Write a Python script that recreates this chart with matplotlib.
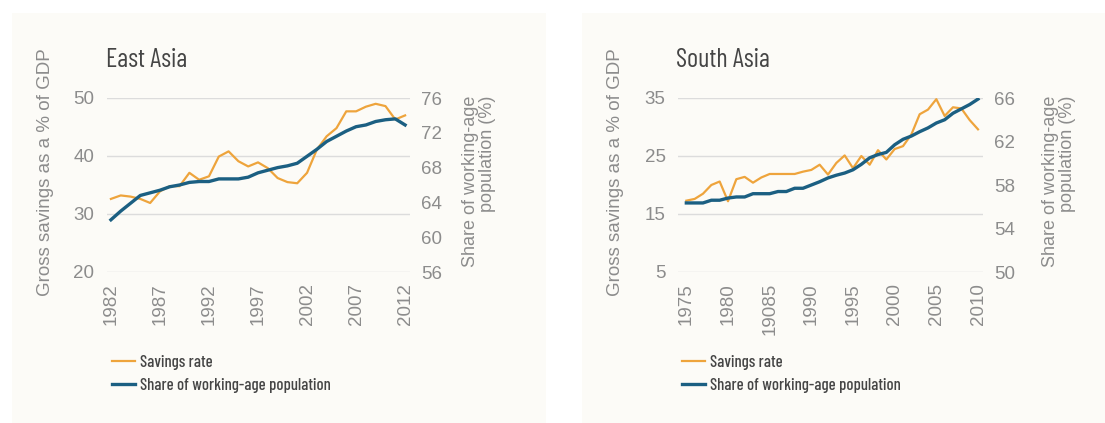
import matplotlib
matplotlib.use("Agg")
import matplotlib.pyplot as plt
from matplotlib.patches import Rectangle
from matplotlib.lines import Line2D

# East Asia
ea_years = list(range(1982, 2013))
ea_savings = [32.6, 33.2, 33.0, 32.6, 31.9, 33.9, 34.8, 34.8, 37.1, 35.9,
              36.5, 39.9, 40.8, 39.1, 38.2, 38.9, 37.9, 36.2, 35.5, 35.3,
              37.1, 41.1, 43.4, 44.8, 47.7, 47.7, 48.5, 49.0, 48.6, 46.3, 47.0]
ea_share = [62.0, 63.0, 63.9, 64.8, 65.1, 65.4, 65.8, 66.0, 66.3, 66.4,
            66.4, 66.7, 66.7, 66.7, 66.9, 67.4, 67.7, 68.0, 68.2, 68.5,
            69.3, 70.1, 71.0, 71.6, 72.2, 72.7, 72.9, 73.3, 73.5, 73.6, 72.9]
ea_xticks = [1982, 1987, 1992, 1997, 2002, 2007, 2012]
ea_xlabels = ["1982", "1987", "1992", "1997", "2002", "2007", "2012"]
ea_left_ticks = [20, 30, 40, 50]
ea_right_ticks = [56, 60, 64, 68, 72, 76]

# South Asia
sa_years = list(range(1975, 2011))
sa_savings = [17.3, 17.6, 18.5, 20.0, 20.6, 17.2, 21.0, 21.4, 20.4, 21.3,
              21.9, 21.9, 21.9, 21.9, 22.3, 22.6, 23.5, 21.8, 23.8, 25.1,
              22.9, 25.0, 23.5, 26.0, 24.4, 26.2, 26.7, 28.7, 32.2, 33.0,
              34.8, 31.9, 33.4, 33.2, 31.2, 29.6]
sa_share = [56.35, 56.35, 56.35, 56.6, 56.6, 56.8, 56.9, 56.9, 57.2, 57.2,
            57.2, 57.4, 57.4, 57.7, 57.7, 58.0, 58.3, 58.65, 58.9, 59.1,
            59.4, 59.9, 60.5, 60.8, 61.0, 61.7, 62.2, 62.5, 62.9, 63.25,
            63.7, 64.0, 64.6, 65.0, 65.4, 65.9]
sa_xticks = [1975, 1980, 1985, 1990, 1995, 2000, 2005, 2010]
sa_xlabels = ["1975", "1980", "19085", "1990", "1995", "2000", "2005", "2010"]
sa_left_ticks = [5, 15, 25, 35]
sa_right_ticks = [50, 54, 58, 62, 66]

orange = "#eea43c"
blue = "#1b5f82"
panel_bg = "#fcfbf7"
tick_col = "#8c8c8c"
text_col = "#454545"
narrow = ["Barlow Condensed", "Liberation Sans Narrow", "DejaVu Sans"]
plain = ["Liberation Sans", "DejaVu Sans"]

W, H = 1105, 423
fig = plt.figure(figsize=(W / 100, H / 100), dpi=100)
fig.patch.set_facecolor("white")

# panel backgrounds
fig.patches.append(Rectangle((12 / W, 0), 534 / W, 1 - 13 / H, transform=fig.transFigure,
                             facecolor=panel_bg, edgecolor="none", zorder=-5))
fig.patches.append(Rectangle((582 / W, 0), (W - 582) / W, 1 - 13 / H, transform=fig.transFigure,
                             facecolor=panel_bg, edgecolor="none", zorder=-5))


def panel(rect, title, years, sav, share, xticks, xlabels, lticks, rticks, xlim,
          title_x, lab_x, rlab_x, leg_x):
    ax = fig.add_axes(rect)
    ax.set_facecolor("none")
    ax2 = ax.twinx()
    ax.plot(years, sav, color=orange, lw=1.6, zorder=3)
    ax2.plot(years, share, color=blue, lw=2.4, zorder=4)
    ax.set_xlim(*xlim)
    ax.set_ylim(lticks[0], lticks[-1])
    ax2.set_ylim(rticks[0], rticks[-1])
    ax.set_yticks(lticks)
    ax2.set_yticks(rticks)
    ax.set_xticks(xticks)
    ax.set_xticklabels(xlabels, rotation=90)
    ax.grid(axis="y", color="#dcdcdc", lw=1)
    for a in (ax, ax2):
        for s in a.spines.values():
            s.set_visible(False)
        a.tick_params(length=0, labelsize=13.5, labelcolor=tick_col)
        for lab in a.get_xticklabels() + a.get_yticklabels():
            lab.set_family(plain)
    ax.tick_params(axis="y", pad=9)
    ax2.tick_params(axis="y", pad=8)
    ax.tick_params(axis="x", pad=8)
    fig.text(title_x / W, 1 - 60 / H, title, family=narrow, fontsize=19,
             color=text_col, va="center", ha="left")
    fig.text(lab_x / W, 1 - 172 / H, "Gross savings as a % of GDP", rotation=90,
             family=plain, fontsize=13.5, color=tick_col, va="center", ha="center")
    fig.text(rlab_x / W, 1 - 96 / H, "Share of working-age\npopulation (%)", rotation=90,
             family=plain, fontsize=13, color=tick_col, va="top", ha="center",
             multialignment="right", linespacing=0.95)
    handles = [Line2D([], [], color=orange, lw=1.6), Line2D([], [], color=blue, lw=2.4)]
    fig.legend(handles, ["Savings rate", "Share of working-age population"],
               loc="upper left", bbox_to_anchor=(leg_x / W, 1 - 355 / H),
               frameon=False, handlelength=1.35, handletextpad=0.35, labelspacing=0.45,
               prop={"family": narrow, "size": 12, "weight": "medium"}, labelcolor=text_col,
               borderaxespad=0, borderpad=0)
    return ax


panel([107 / W, 151 / H, 303 / W, 174 / H], "East Asia", ea_years, ea_savings, ea_share,
      ea_xticks, ea_xlabels, ea_left_ticks, ea_right_ticks, (1981.6, 2012.5),
      106, 46, 479, 112)
panel([678 / W, 151 / H, 305 / W, 174 / H], "South Asia", sa_years, sa_savings, sa_share,
      sa_xticks, sa_xlabels, sa_left_ticks, sa_right_ticks, (1974.0, 2010.6),
      676, 615, 1059, 682)

fig.savefig("out.png", dpi=100, facecolor=fig.get_facecolor())
